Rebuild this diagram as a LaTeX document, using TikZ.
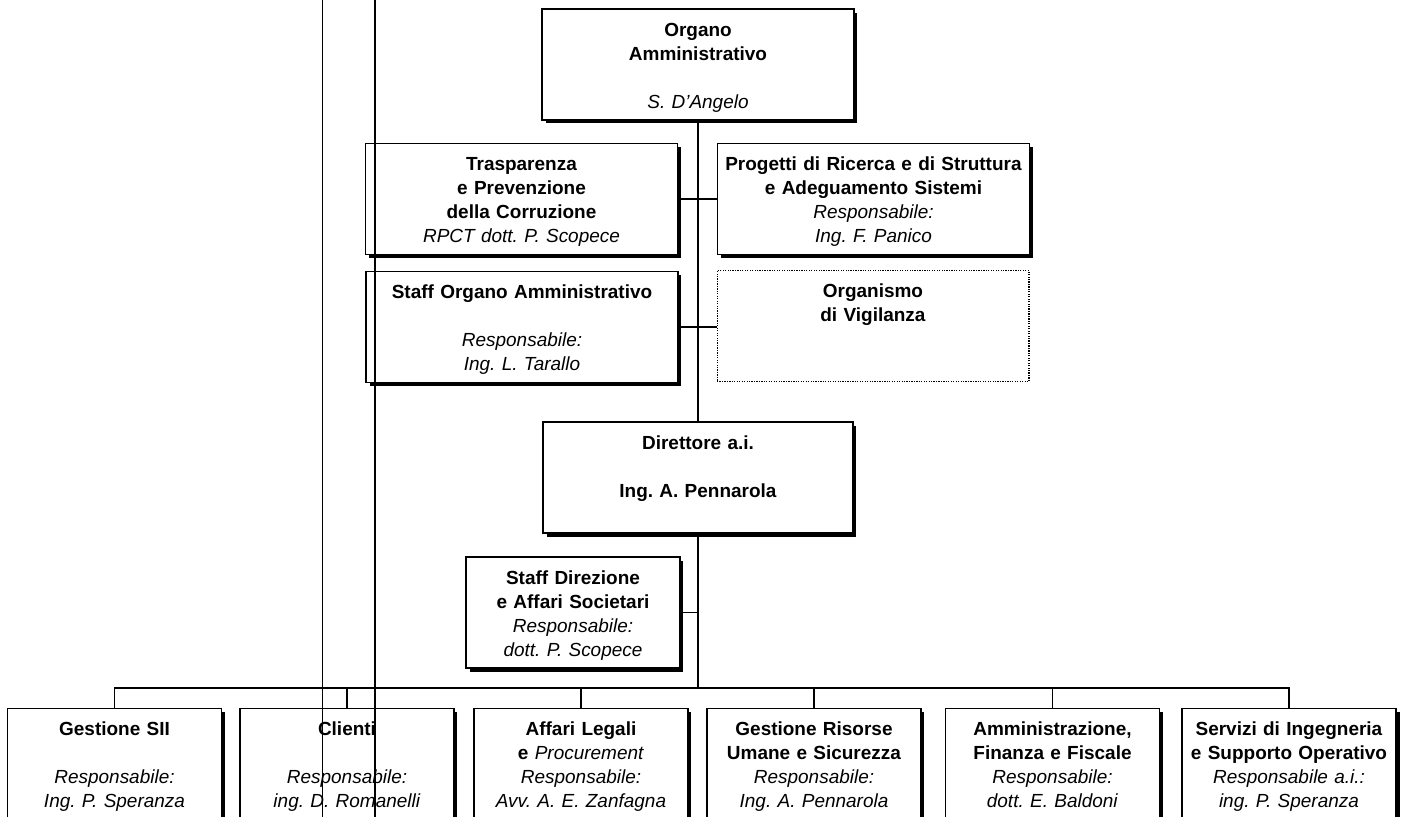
\documentclass[tikz,border=0pt]{standalone}
\usepackage{fontspec}
\setmainfont{Liberation Sans}
\usepackage{tikz}
\usetikzlibrary{shadows}
\frenchspacing
\newcommand{\ttl}[1]{\textbf{#1}\strut}
\newcommand{\who}[1]{\textit{#1}\strut}

\begin{document}
\begin{tikzpicture}[x=0.02cm, y=-0.02cm,
        cell/.style={draw, fill=white, line width=1pt, align=center, inner sep=0pt,
            minimum height=2.22cm, font=\fontsize{10.8}{13.7}\selectfont,
            execute at begin node={\rule{0pt}{12.8pt}}},
        box/.style={cell, drop shadow={shadow xshift=2pt, shadow yshift=-2pt, opacity=1, fill=black}},
        widebox/.style={box, text width=6.24cm},
        smallbox/.style={box, text width=4.28cm},
        link/.style={line width=0.7pt}]
        \useasboundingbox (0,0) rectangle (1401,817);
        \clip (0,0) rectangle (1401,817);
        \node[widebox] (organo) at (698,64.5) {\ttl{Organo}\\\ttl{Amministrativo}\\\strut\\\who{S. D'Angelo}};
        \node[widebox] (trasp) at (521.5,199) {\ttl{Trasparenza}\\\ttl{e Prevenzione}\\\ttl{della Corruzione}\\\who{RPCT dott. P. Scopece}};
        \node[widebox] (progetti) at (873.5,199) {\ttl{Progetti di Ricerca e di Struttura}\\\ttl{e Adeguamento Sistemi}\\\who{Responsabile:}\\\who{Ing. F. Panico}};
        \node[widebox] (stafforg) at (522,327) {\ttl{Staff Organo Amministrativo}\\\strut\\\who{Responsabile:}\\\who{Ing. L. Tarallo}};
        \node[cell, text width=6.24cm, line width=0.6pt, dash pattern=on 0.7pt off 0.7pt] (vigil) at (873,326) {\ttl{Organismo}\\\ttl{di Vigilanza}\\\strut\\\strut};
        \node[widebox, text width=6.2cm] (direttore) at (698,477.5) {\ttl{Direttore a.i.}\\\strut\\\ttl{Ing. A. Pennarola}\\\strut};
        \node[smallbox] (staffdir) at (573,612.5) {\ttl{Staff Direzione}\\\ttl{e Affari Societari}\\\who{Responsabile:}\\\who{dott. P. Scopece}};
        \node[smallbox] (sii) at (114.5,764) {\ttl{Gestione SII}\\\strut\\\who{Responsabile:}\\\who{Ing. P. Speranza}};
        \node[smallbox] (clienti) at (347,764) {\ttl{Clienti}\\\strut\\\who{Responsabile:}\\\who{ing. D. Romanelli}};
        \node[smallbox] (legali) at (581,764) {\ttl{Affari Legali}\\\textbf{e} \who{Procurement}\\\who{Responsabile:}\\\who{Avv. A. E. Zanfagna}};
        \node[smallbox] (risorse) at (814,764) {\ttl{Gestione Risorse}\\\ttl{Umane e Sicurezza}\\\who{Responsabile:}\\\who{Ing. A. Pennarola}};
        \node[smallbox] (amm) at (1052.5,764) {\ttl{Amministrazione,}\\\ttl{Finanza e Fiscale}\\\who{Responsabile:}\\\who{dott. E. Baldoni}};
        \node[smallbox] (servizi) at (1289,764) {\ttl{Servizi di Ingegneria}\\\ttl{e Supporto Operativo}\\\who{Responsabile a.i.:}\\\who{ing. P. Speranza}};
        \coordinate (bus) at (698,688);
        \draw[link] (organo.south) -- (direttore.north);
        \draw[link] (trasp.east) -- (trasp.east -| progetti.west);
        \draw[link] (stafforg.east) -- (stafforg.east -| vigil.west);
        \draw[link] (direttore.south) -- (bus);
        \draw[link] (staffdir.east) -- (staffdir.east -| bus);
        \foreach \u in {sii,clienti,legali,risorse,amm,servizi}
            \draw[link] (bus) -| (\u.north);
        \draw[line width=0.5pt] (322,0) -- (322,817);
        \draw[line width=1.7pt] (375,0) -- (375,817);
    \end{tikzpicture}
\end{document}
